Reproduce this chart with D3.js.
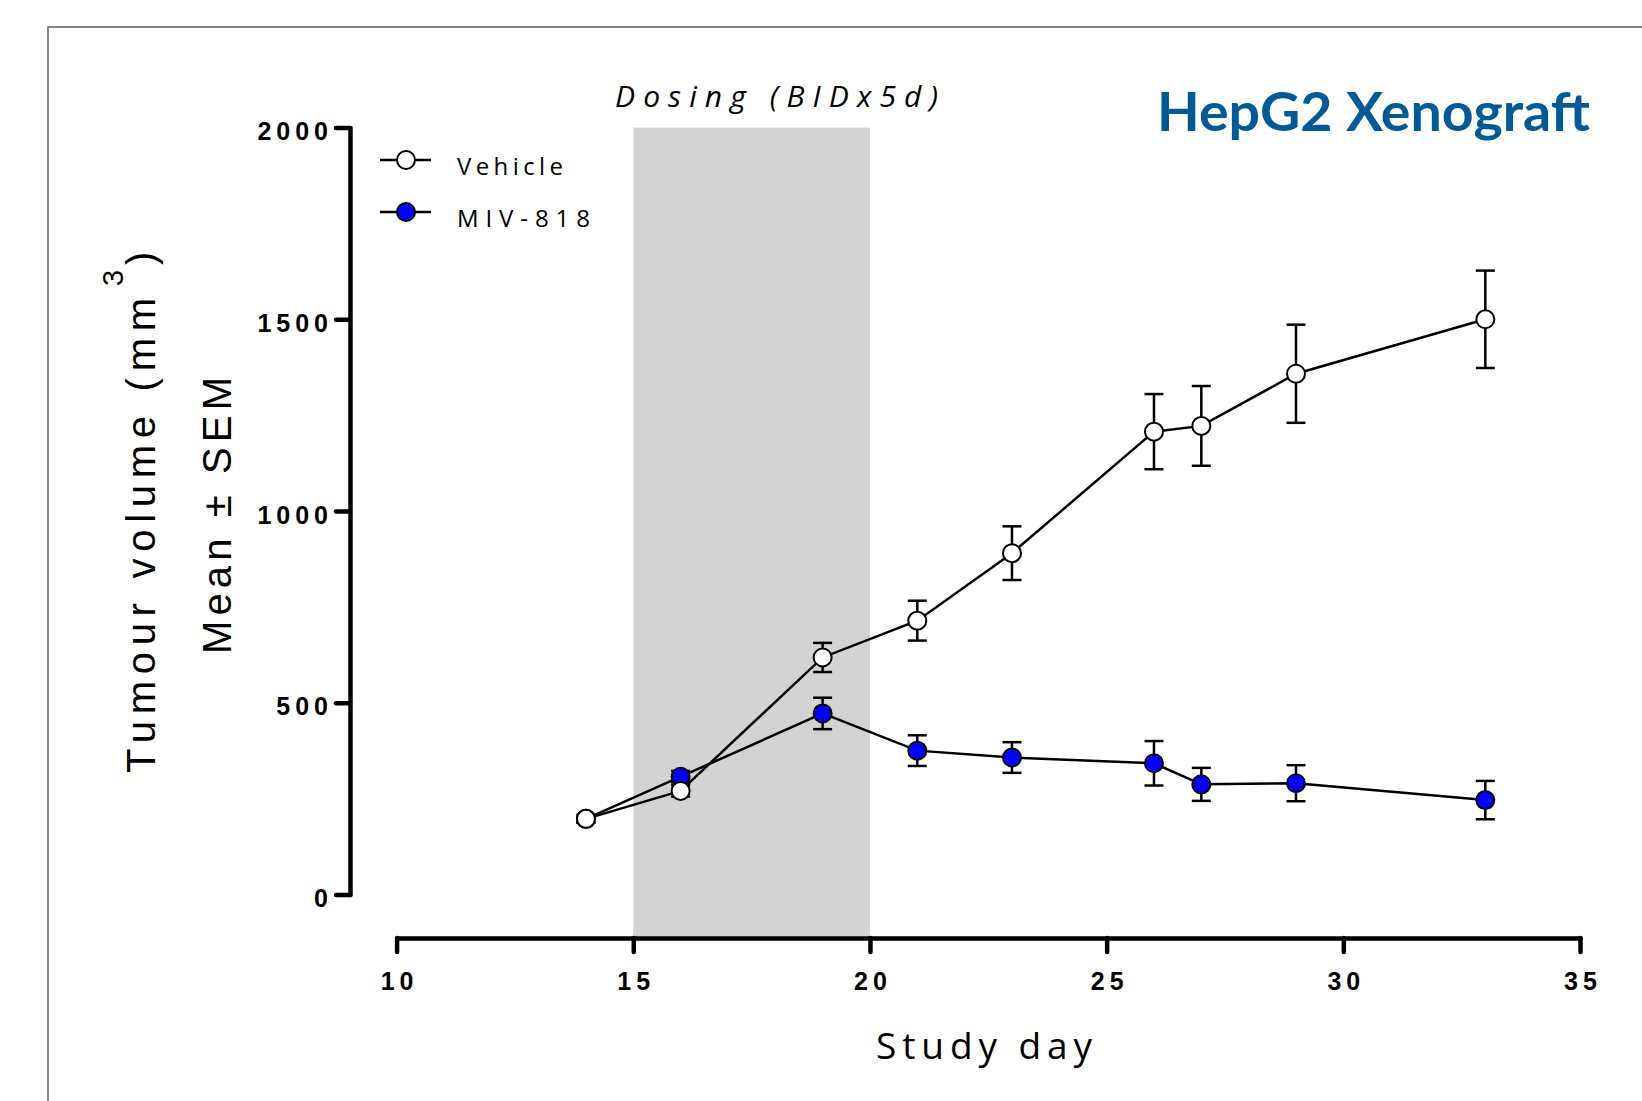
<html lang="en">
<head>
    <meta charset="utf-8">
    <title>HepG2 Xenograft</title>
    <script type="text/javascript" src="https://cdn.jsdelivr.net/npm/d3@7/dist/d3.min.js"></script>
    <style type="text/css">
        body { margin: 0; background: #fff; }
        .tick text { font-family: "Liberation Sans", Arial, sans-serif; font-weight: bold; font-size: 25px; letter-spacing: 5px; fill: #000; }
        .lbl { font-family: "Open Sans", sans-serif; fill: #000; }
        .ylbl { font-family: "Liberation Sans", Arial, sans-serif; fill: #000; }
    </style>
</head>
<body>
<script type="text/javascript">
    // data
    var days = [14, 16, 19, 21, 23, 26, 27, 29, 33];
    var vehicleMean = [197, 270, 618, 714, 890, 1207, 1222, 1358, 1500];
    var vehicleSem  = [10, 15, 38, 52, 70, 98, 104, 128, 127];
    var mivMean = [197, 307, 472, 375, 357, 342, 287, 290, 246];
    var mivSem  = [10, 15, 41, 40, 40, 58, 43, 47, 50];
    var xTicks = [10, 15, 20, 25, 30, 35];
    var yTicks = [0, 500, 1000, 1500, 2000];
    var dosing = [15, 20];

    var w = 1642;
    var h = 1101;
    var svg = d3.select("body").append("svg")
            .attr("width", w)
            .attr("height", h);

    // frame
    svg.append("rect")
            .attr("x", 48).attr("y", 27)
            .attr("width", w).attr("height", h)
            .attr("fill", "none")
            .attr("stroke", "#666")
            .attr("stroke-width", 1.6);

    var x = d3.scaleLinear().domain([10, 35]).range([396.6, 1580]);
    var y = d3.scaleLinear().domain([0, 2000]).range([894.4, 127.6]);
    var xAxisY = 938;
    var yAxisX = 350;

    // dosing period
    svg.append("rect")
            .attr("x", x(dosing[0]))
            .attr("y", y(2000))
            .attr("width", x(dosing[1]) - x(dosing[0]))
            .attr("height", xAxisY - y(2000))
            .attr("fill", "#d3d3d3");

    // axes
    var yAxis = svg.append("g")
            .attr("transform", "translate(" + yAxisX + ",0)")
            .call(d3.axisLeft(y).tickValues(yTicks).tickFormat(d3.format("d"))
                    .tickSize(14).tickSizeOuter(0).tickPadding(3));
    yAxis.selectAll("text").attr("dy", 12);

    var xAxis = svg.append("g")
            .attr("transform", "translate(0," + xAxisY + ")")
            .call(d3.axisBottom(x).tickValues(xTicks).tickFormat(d3.format("d")).tickSize(14).tickSizeOuter(0));
    xAxis.selectAll("text").attr("y", 52).attr("dy", 0).attr("dx", 2.5);

    svg.selectAll(".domain, .tick line")
            .attr("stroke", "#000")
            .attr("stroke-width", 4.5)
            .attr("stroke-linecap", "round");

    // series
    var series = [
        { name: "MIV-818", mean: mivMean, sem: mivSem, fill: "#0000ff" },
        { name: "Vehicle", mean: vehicleMean, sem: vehicleSem, fill: "#ffffff" }
    ];

    var line = d3.line()
            .x(function(d) { return x(d.day); })
            .y(function(d) { return y(d.mean); });

    series.forEach(function(s) {
        var pts = days.map(function(d, i) {
            return { day: d, mean: s.mean[i], sem: s.sem[i] };
        });
        var g = svg.append("g");
        g.append("path")
                .datum(pts)
                .attr("d", line)
                .attr("fill", "none")
                .attr("stroke", "#000")
                .attr("stroke-width", 2.5);

        var eb = g.selectAll(".eb")
                .data(pts)
                .enter()
                .append("g");
        eb.append("line")
                .attr("x1", function(d) { return x(d.day); })
                .attr("x2", function(d) { return x(d.day); })
                .attr("y1", function(d) { return y(d.mean - d.sem); })
                .attr("y2", function(d) { return y(d.mean + d.sem); });
        eb.append("line")
                .attr("x1", function(d) { return x(d.day) - 9.5; })
                .attr("x2", function(d) { return x(d.day) + 9.5; })
                .attr("y1", function(d) { return y(d.mean + d.sem); })
                .attr("y2", function(d) { return y(d.mean + d.sem); });
        eb.append("line")
                .attr("x1", function(d) { return x(d.day) - 9.5; })
                .attr("x2", function(d) { return x(d.day) + 9.5; })
                .attr("y1", function(d) { return y(d.mean - d.sem); })
                .attr("y2", function(d) { return y(d.mean - d.sem); });
        eb.selectAll("line")
                .attr("stroke", "#000")
                .attr("stroke-width", 2.5);

        g.selectAll("circle")
                .data(pts)
                .enter()
                .append("circle")
                .attr("cx", function(d) { return x(d.day); })
                .attr("cy", function(d) { return y(d.mean); })
                .attr("r", 9)
                .attr("fill", s.fill)
                .attr("stroke", "#000")
                .attr("stroke-width", 2);
    });

    // legend
    var legend = [
        { name: "Vehicle", fill: "#ffffff", y: 160, len: 106 },
        { name: "MIV-818", fill: "#0000ff", y: 212, len: 133 }
    ];
    legend.forEach(function(l) {
        svg.append("line")
                .attr("x1", 380).attr("x2", 431)
                .attr("y1", l.y).attr("y2", l.y)
                .attr("stroke", "#000").attr("stroke-width", 2.5);
        svg.append("circle")
                .attr("cx", 406).attr("cy", l.y).attr("r", 9)
                .attr("fill", l.fill)
                .attr("stroke", "#000").attr("stroke-width", 2);
        svg.append("text")
                .attr("class", "lbl")
                .attr("x", 457).attr("y", l.y + 14.5)
                .attr("font-size", "24px")
                .attr("textLength", l.len)
                .attr("lengthAdjust", "spacing")
                .text(l.name);
    });

    // titles
    svg.append("text")
            .attr("x", 1157).attr("y", 131)
            .attr("font-family", "Lato, 'Open Sans', sans-serif")
            .attr("font-weight", "bold")
            .attr("font-size", "54px")
            .attr("fill", "#005a96")
            .attr("textLength", 433)
            .attr("lengthAdjust", "spacingAndGlyphs")
            .text("HepG2 Xenograft");

    svg.append("text")
            .attr("class", "lbl")
            .attr("x", 615).attr("y", 107)
            .attr("font-size", "30px")
            .attr("font-style", "italic")
            .attr("textLength", 323)
            .attr("lengthAdjust", "spacing")
            .text("Dosing (BIDx5d)");

    svg.append("text")
            .attr("class", "lbl")
            .attr("x", 876).attr("y", 1059)
            .attr("font-size", "37px")
            .attr("textLength", 216)
            .attr("lengthAdjust", "spacing")
            .text("Study day");

    var yt1 = svg.append("g").attr("transform", "translate(155,0) rotate(-90)");
    yt1.append("text")
            .attr("class", "ylbl")
            .attr("x", -773).attr("y", 0)
            .attr("font-size", "40px")
            .attr("textLength", 475)
            .attr("lengthAdjust", "spacing")
            .text("Tumour volume (mm");
    yt1.append("text")
            .attr("class", "ylbl")
            .attr("x", -286).attr("y", -32)
            .attr("font-size", "29px")
            .text("3");
    yt1.append("text")
            .attr("class", "ylbl")
            .attr("x", -265).attr("y", 0)
            .attr("font-size", "40px")
            .text(")");

    var yt2 = svg.append("g").attr("transform", "translate(231,0) rotate(-90)");
    yt2.append("text")
            .attr("class", "ylbl")
            .attr("x", -654).attr("y", 0)
            .attr("font-size", "40px")
            .attr("textLength", 277)
            .attr("lengthAdjust", "spacing")
            .text("Mean \u00b1 SEM");
</script>
</body>
</html>
